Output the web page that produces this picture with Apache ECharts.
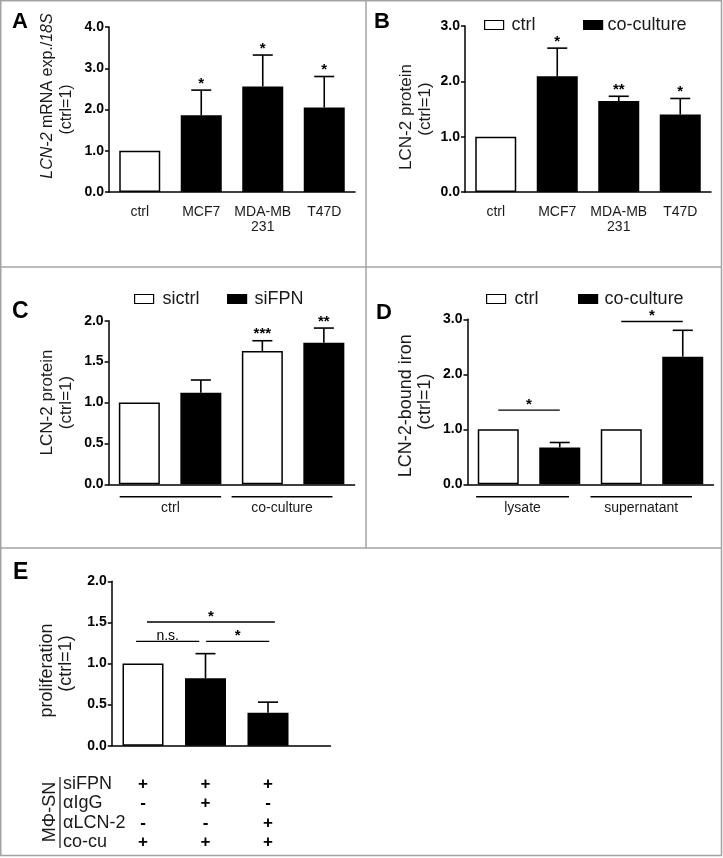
<!DOCTYPE html>
<html><head><meta charset="utf-8">
<script src="https://cdn.jsdelivr.net/npm/echarts@6/dist/echarts.min.js"></script>
<style>html,body{margin:0;padding:0;background:#fff}#c{width:723px;height:858px}</style>
</head><body><div id="c"></div>
<script>
// ---------------- DATA ----------------
const catsA = ['ctrl', 'MCF7', 'MDA-MB\n231', 'T47D'];
const condA = ['ctrl', 'cell line', 'cell line', 'cell line'];
const meanA = [1.00, 1.86, 2.56, 2.05];
const semA  = [0, 0.61, 0.76, 0.75];
const sigA  = ['', '*', '*', '*'];

const catsB = ['ctrl', 'MCF7', 'MDA-MB\n231', 'T47D'];
const condB = ['ctrl', 'co-culture', 'co-culture', 'co-culture'];
const meanB = [1.00, 2.09, 1.645, 1.40];
const semB  = [0, 0.51, 0.085, 0.29];
const sigB  = ['', '*', '**', '*'];

const groupsC = ['ctrl', 'co-culture'];
const condC = ['sictrl', 'siFPN', 'sictrl', 'siFPN'];
const meanC = [1.00, 1.12, 1.63, 1.73];
const semC  = [0, 0.155, 0.125, 0.18];
const sigC  = ['', '', '***', '**'];

const groupsD = ['lysate', 'supernatant'];
const condD = ['ctrl', 'co-culture', 'ctrl', 'co-culture'];
const meanD = [1.00, 0.67, 1.00, 2.32];
const semD  = [0, 0.09, 0, 0.48];
const compD = [{a: 0, b: 1, text: '*'}, {a: 2, b: 3, text: '*'}];

const condE = ['ctrl', 'treated', 'treated'];
const meanE = [1.00, 0.82, 0.40];
const semE  = [0, 0.30, 0.13];
const compE = [{a: 0, b: 2, text: '*'}, {a: 0, b: 1, text: 'n.s.'}, {a: 1, b: 2, text: '*'}];
const rowsE = ['siFPN', 'αIgG', 'αLCN-2', 'co-cu'];
const tableE = [['+', '+', '+'], ['-', '+', '-'], ['-', '-', '+'], ['+', '+', '+']];

// ---------------- STYLE ----------------
const FONT = '"Liberation Sans", Arial, Helvetica, sans-serif';
const BLACK = '#000';
const TXT = '#1a1a1a';
const chart = echarts.init(document.getElementById('c'), null, {width: 723, height: 858});

const catKeys = (groups, cond) => cond.map((c, i) => groups[Math.floor(i / 2)] + ' ' + c);

function rs(size, extra) {
  return Object.assign({fontFamily: FONT, fontSize: size, color: TXT, lineHeight: 19}, extra || {});
}
function yAxis(gi, max, interval, name, rich, gap, size) {
  return {
    type: 'value', gridIndex: gi, min: 0, max: max, interval: interval,
    axisLine: {show: true, onZero: false, lineStyle: {color: BLACK, width: 1.5}},
    axisTick: {show: true, length: 4, lineStyle: {color: BLACK, width: 1.5}},
    axisLabel: {fontFamily: FONT, fontWeight: 'bold', fontSize: 14, color: BLACK, margin: 5,
      formatter: v => v.toFixed(1)},
    splitLine: {show: false},
    name: name, nameLocation: 'middle', nameGap: gap, nameRotate: 90,
    nameTextStyle: {fontFamily: FONT, fontSize: size, color: TXT, lineHeight: 19, align: 'center', rich: rich}
  };
}
function xCat(gi, data, showLabel) {
  return {
    type: 'category', gridIndex: gi, data: data,
    axisLine: {show: true, lineStyle: {color: BLACK, width: 1.5}},
    axisTick: {show: false},
    axisLabel: {show: showLabel, interval: 0, fontFamily: FONT, fontSize: 14, color: TXT, margin: 13, lineHeight: 15},
    splitLine: {show: false}
  };
}
const whiteBar = {color: '#fff', borderColor: BLACK, borderWidth: 1.5};
const blackBar = {color: BLACK, borderColor: BLACK, borderWidth: 1.5};

function barSeries(name, gi, cond, key, mean, style) {
  return {
    type: 'bar', name: name, xAxisIndex: gi, yAxisIndex: gi, barWidth: 41, barGap: '-100%',
    itemStyle: style, emphasis: {disabled: true},
    data: mean.map((v, i) => cond[i] === key ? v : '-')
  };
}
function barSeriesXY(name, gi, cond, key, mean, style) {
  return {
    type: 'bar', name: name, xAxisIndex: gi, yAxisIndex: gi, barWidth: 41, barGap: '-100%',
    itemStyle: style, emphasis: {disabled: true},
    data: mean.map((v, i) => cond[i] === key ? [i, v] : null).filter(d => d)
  };
}
function errSeries(gi, mean, sem, sig) {
  return {
    type: 'custom', xAxisIndex: gi, yAxisIndex: gi, z: 5, silent: true,
    data: mean.map((v, i) => [i, v]),
    renderItem: function (params, api) {
      const i = params.dataIndex;
      const x = api.value(0);
      const top = api.coord([x, mean[i]]);
      const ch = [];
      let capY = top[1];
      if (sem[i] > 0) {
        const hi = api.coord([x, mean[i] + sem[i]]);
        capY = hi[1];
        ch.push({type: 'line', shape: {x1: top[0], y1: top[1], x2: hi[0], y2: hi[1]}, style: {stroke: BLACK, lineWidth: 1.6}});
        ch.push({type: 'line', shape: {x1: hi[0] - 10, y1: hi[1], x2: hi[0] + 10, y2: hi[1]}, style: {stroke: BLACK, lineWidth: 1.6}});
      }
      if (sig && sig[i]) {
        ch.push({type: 'text', style: {text: sig[i], x: top[0], y: capY + 1, align: 'center', verticalAlign: 'bottom',
          fontSize: 15, fontWeight: 'bold', fontFamily: FONT, fill: BLACK}});
      }
      return {type: 'group', children: ch};
    }
  };
}
function legendItem(name, left, top, gap) {
  return {
    data: [name], left: left, top: top, padding: 0, itemWidth: 19, itemHeight: 9, selectedMode: false,
    icon: 'rect', itemStyle: {borderColor: BLACK, borderWidth: 1.2},
    textStyle: {fontFamily: FONT, fontSize: 18, color: TXT, padding: [0, 0, 0, gap]}
  };
}

const option = {
  animation: false,
  backgroundColor: '#fff',
  grid: [
    {left: 109, width: 246, top: 27, height: 165},
    {left: 465, width: 246, top: 26, height: 166},
    {left: 108.6, width: 246, top: 320.7, height: 163.6},
    {left: 467.5, width: 246, top: 319.3, height: 165},
    {left: 111.75, width: 218.75, top: 581.3, height: 164.4}
  ],
  xAxis: [
    xCat(0, catsA, true),
    xCat(1, catsB, true),
    xCat(2, catKeys(groupsC, condC), false),
    xCat(3, catKeys(groupsD, condD), false),
    {type: 'value', gridIndex: 4, min: -0.5, max: 3,
      axisLine: {show: true, onZero: false, lineStyle: {color: BLACK, width: 1.5}},
      axisTick: {show: false}, axisLabel: {show: false}, splitLine: {show: false}}
  ],
  yAxis: [
    yAxis(0, 4, 1, '{ip|LCN-2}{r| mRNA exp./}{i|18S}\n{r|(ctrl=1)}', {
      ip: rs(16, {fontStyle: 'italic', padding: [0, 0, 0, 27]}),
      i: rs(16, {fontStyle: 'italic'}),
      r: rs(16)}, 33, 16),
    yAxis(1, 3, 1, '{p|LCN-2 protein}\n{r|(ctrl=1)}', {
      p: rs(17, {padding: [0, 16, 0, 0]}), r: rs(17)}, 30, 17),
    yAxis(2, 2, 0.5, 'LCN-2 protein\n(ctrl=1)', null, 33, 17),
    yAxis(3, 3, 1, '{p|LCN-2-bound iron}\n{r|(ctrl=1)}', {
      p: rs(18, {padding: [0, 8, 0, 0]}), r: rs(18)}, 33, 18),
    yAxis(4, 2, 0.5, '{p|proliferation}\n{r|(ctrl=1)}', {
      p: rs(18, {padding: [0, 14, 0, 0]}), r: rs(18)}, 36, 18)
  ],
  legend: [
    legendItem('ctrl', 484, 16, 3), legendItem('co-culture', 583, 16, 0),
    legendItem('sictrl', 134, 290, 4), legendItem('siFPN', 227, 290, 3),
    legendItem('ctrl', 486, 290, 4), legendItem('co-culture', 578, 290, 2)
  ],
  series: [
    barSeries('ctrl A', 0, condA, 'ctrl', meanA, whiteBar),
    barSeries('cell line A', 0, condA, 'cell line', meanA, blackBar),
    errSeries(0, meanA, semA, sigA),
    barSeries('ctrl', 1, condB, 'ctrl', meanB, whiteBar),
    barSeries('co-culture', 1, condB, 'co-culture', meanB, blackBar),
    errSeries(1, meanB, semB, sigB),
    barSeries('sictrl', 2, condC, 'sictrl', meanC, whiteBar),
    barSeries('siFPN', 2, condC, 'siFPN', meanC, blackBar),
    errSeries(2, meanC, semC, sigC),
    barSeries('ctrl', 3, condD, 'ctrl', meanD, whiteBar),
    barSeries('co-culture', 3, condD, 'co-culture', meanD, blackBar),
    errSeries(3, meanD, semD, null),
    barSeriesXY('ctrl E', 4, condE, 'ctrl', meanE, whiteBar),
    barSeriesXY('treated E', 4, condE, 'treated', meanE, blackBar),
    errSeries(4, meanE, semE, null)
  ]
};
chart.setOption(option);

// ---------------- ANNOTATIONS (positions from the axes) ----------------
const px = (gi, x, y) => chart.convertToPixel({xAxisIndex: gi, yAxisIndex: gi}, [x, y]);
const g = [];
const lineEl = (x1, y1, x2, y2, color, w) => ({type: 'line', silent: true,
  shape: {x1, y1, x2, y2}, style: {stroke: color || BLACK, lineWidth: w || 1.5}});
const textEl = (text, x, y, opt) => ({type: 'text', silent: true, x: x, y: y,
  style: Object.assign({text: text, fontFamily: FONT, fill: TXT, fontSize: 14, align: 'center', verticalAlign: 'top'}, opt || {})});

// panel frame
const GRAY = '#a3a3a3';
g.push({type: 'rect', silent: true, shape: {x: 0.75, y: 0.75, width: 720.75, height: 854.75}, style: {fill: 'none', stroke: GRAY, lineWidth: 1.5}});
g.push(lineEl(366, 0, 366, 548, GRAY, 1.5));
g.push(lineEl(0, 267, 722, 267, GRAY, 1.5));
g.push(lineEl(0, 548, 722, 548, GRAY, 1.5));

// panel letters
[['A', 12, 11, 22], ['B', 374, 11, 22], ['C', 12, 300, 23], ['D', 376, 302, 22], ['E', 13, 561, 23]].forEach(p => {
  g.push(textEl(p[0], p[1], p[2], {fontSize: p[3], fontWeight: 'bold', fill: BLACK, align: 'left'}));
});

// group lines + labels under C and D
function groupLines(gi, groups, startOff, endOff) {
  const c0 = px(gi, 0, 0), c1 = px(gi, 1, 0);
  const band = c1[0] - c0[0];
  groups.forEach((name, k) => {
    const a = px(gi, 2 * k, 0)[0] - startOff[k] * band;
    const b = px(gi, 2 * k + 1, 0)[0] + endOff[k] * band;
    const y = c0[1] + 12.5;
    g.push(lineEl(a, y, b, y, BLACK, 1.5));
    g.push(textEl(name, (a + b) / 2, y + 4, {fontSize: 14}));
  });
}
groupLines(2, groupsC, [0.32, 0.5], [0.33, 0.14]);
groupLines(3, groupsD, [0.36, 0.5], [0.15, 0.15]);

// significance brackets
function brackets(gi, comps, levels, ends) {
  comps.forEach((c, k) => {
    const p1 = px(gi, c.a + ends[k][0], levels[k]);
    const p2 = px(gi, c.b + ends[k][1], levels[k]);
    g.push(lineEl(p1[0], p1[1], p2[0], p2[1], BLACK, 1.3));
    const isStar = c.text.indexOf('*') >= 0;
    g.push(textEl(c.text, (p1[0] + p2[0]) / 2, p1[1] + 2,
      {fontSize: isStar ? 15 : 14, fontWeight: isStar ? 'bold' : 'normal', verticalAlign: 'bottom', fill: BLACK}));
  });
}
brackets(3, compD, [1.35, 2.96], [[-0.04, 0.02], [-0.02, 0.01]]);
brackets(4, compE, [1.505, 1.27, 1.27], [[0.064, 0.11], [-0.11, -0.1], [0.01, 0.02]]);

// treatment table under E
const rowY = [784, 803.5, 823, 842.5];
rowsE.forEach((r, k) => {
  g.push(textEl(r, 63, rowY[k], {fontSize: 18, align: 'left', verticalAlign: 'middle'}));
  tableE[k].forEach((s, j) => {
    const x = px(4, j, 0)[0];
    g.push(textEl(s, x, rowY[k], {fontSize: 17, fontWeight: 'bold', verticalAlign: 'middle', fill: BLACK}));
  });
});
g.push(lineEl(60, 777, 60, 848, TXT, 1.2));
g.push({type: 'text', silent: true, x: 50, y: 812, rotation: Math.PI / 2,
  style: {text: 'MΦ-SN', fontFamily: FONT, fontSize: 18, fill: TXT, align: 'center', verticalAlign: 'middle'}});

chart.setOption({graphic: {elements: g}});
</script>
</body></html>
